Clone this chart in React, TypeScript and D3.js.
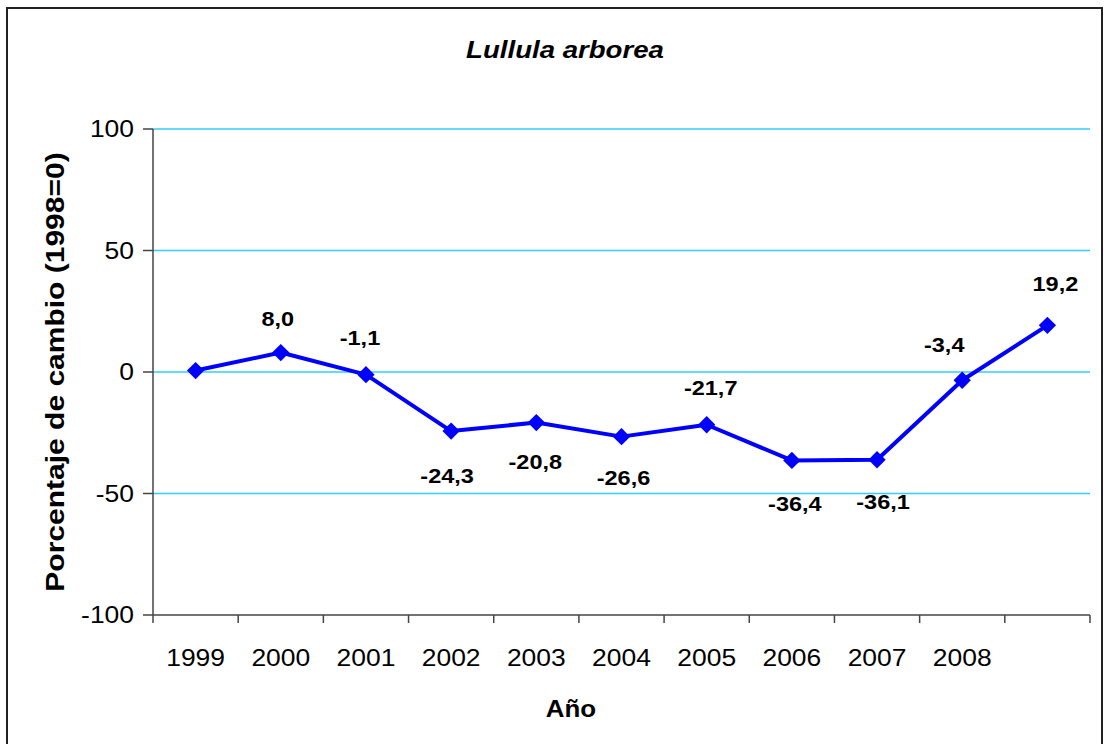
import React from 'react';
import * as d3 from 'd3';

const years = ['1999', '2000', '2001', '2002', '2003', '2004', '2005', '2006', '2007', '2008', ''];
const values = [0.6, 8.0, -1.1, -24.3, -20.8, -26.6, -21.7, -36.4, -36.1, -3.4, 19.2];
const valueLabels = ['', '8,0', '-1,1', '-24,3', '-20,8', '-26,6', '-21,7', '-36,4', '-36,1', '-3,4', '19,2'];
const yTicks = [-100, -50, 0, 50, 100];
const gridValues = [-50, 0, 50, 100];
const labelDx = [0, -3, -6, -4, -1, 2, 4, 3, 6, -18, 8];
const labelDy = [0, -27, -30, 52, 46, 48, -30, 51, 49, -28, -34];

const W = 1104;
const H = 744;
const left = 153;
const right = 1090;
const top = 129;
const bottom = 615;
const FONT = '"Liberation Sans", Arial, sans-serif';
const SX = 1.15;

export default function App() {
  const idx = years.map((_, i) => i);
  const x = d3.scaleBand<number>().domain(idx).range([left, right]).padding(0);
  const bw = x.bandwidth();
  const y = d3.scaleLinear().domain([-100, 100]).range([bottom, top]);
  const cx = (i: number) => (x(i) as number) + bw / 2;

  const line = d3
    .line<number>()
    .x((_, i) => cx(i))
    .y((d) => y(d));

  const diamond = d3.symbol().type(d3.symbolSquare).size(150)();

  const tickXs = [...idx.map((i) => x(i) as number), right];

  return (
    <svg
      width={W}
      height={H}
      style={{ position: 'absolute', left: 0, top: 0, display: 'block', background: '#fff' }}
    >
      <rect x={7} y={8} width={1095} height={760} fill="#fff" stroke="#222" strokeWidth={2} />
      <text
        transform={`translate(565,58) scale(${SX},1)`}
        textAnchor="middle"
        fontFamily={FONT}
        fontSize={24}
        fontWeight="bold"
        fontStyle="italic"
      >
        Lullula arborea
      </text>

      {gridValues.map((v) => (
        <line key={'g' + v} x1={left} x2={right} y1={y(v)} y2={y(v)} stroke="#33CCFF" strokeWidth={1.5} />
      ))}

      <line x1={left} x2={left} y1={top} y2={bottom} stroke="#444" strokeWidth={1.5} />
      <line x1={left} x2={right} y1={bottom} y2={bottom} stroke="#444" strokeWidth={1.5} />

      {yTicks.map((v) => (
        <g key={'yt' + v}>
          <line x1={left - 10} x2={left} y1={y(v)} y2={y(v)} stroke="#444" strokeWidth={1.5} />
          <text
            transform={`translate(${left - 19},${y(v) + 8}) scale(${SX},1)`}
            textAnchor="end"
            fontFamily={FONT}
            fontSize={23}
          >
            {v}
          </text>
        </g>
      ))}

      {tickXs.map((tx, i) => (
        <line key={'xt' + i} x1={tx} x2={tx} y1={bottom} y2={bottom + 8} stroke="#444" strokeWidth={1.5} />
      ))}

      {years.map((yr, i) => (
        <text
          key={'xl' + i}
          transform={`translate(${cx(i)},${666}) scale(${SX},1)`}
          textAnchor="middle"
          fontFamily={FONT}
          fontSize={23}
        >
          {yr}
        </text>
      ))}

      <path d={line(values) || ''} fill="none" stroke="#0000FF" strokeWidth={4} strokeLinejoin="round" />
      {values.map((v, i) => (
        <path
          key={'m' + i}
          d={diamond || ''}
          transform={`translate(${cx(i)},${y(v)}) rotate(45)`}
          fill="#0000FF"
        />
      ))}

      {values.map((v, i) =>
        valueLabels[i] ? (
          <text
            key={'vl' + i}
            transform={`translate(${cx(i) + labelDx[i]},${y(v) + labelDy[i]}) scale(1.12,1)`}
            textAnchor="middle"
            fontFamily={FONT}
            fontSize={21}
            fontWeight="bold"
          >
            {valueLabels[i]}
          </text>
        ) : null
      )}

      <text
        transform={`translate(64,${(top + bottom) / 2}) rotate(-90) scale(1.2,1)`}
        textAnchor="middle"
        fontFamily={FONT}
        fontSize={25}
        fontWeight="bold"
      >
        Porcentaje de cambio (1998=0)
      </text>

      <text
        transform={`translate(571,717) scale(1.08,1)`}
        textAnchor="middle"
        fontFamily={FONT}
        fontSize={24}
        fontWeight="bold"
      >
        Año
      </text>
    </svg>
  );
}
